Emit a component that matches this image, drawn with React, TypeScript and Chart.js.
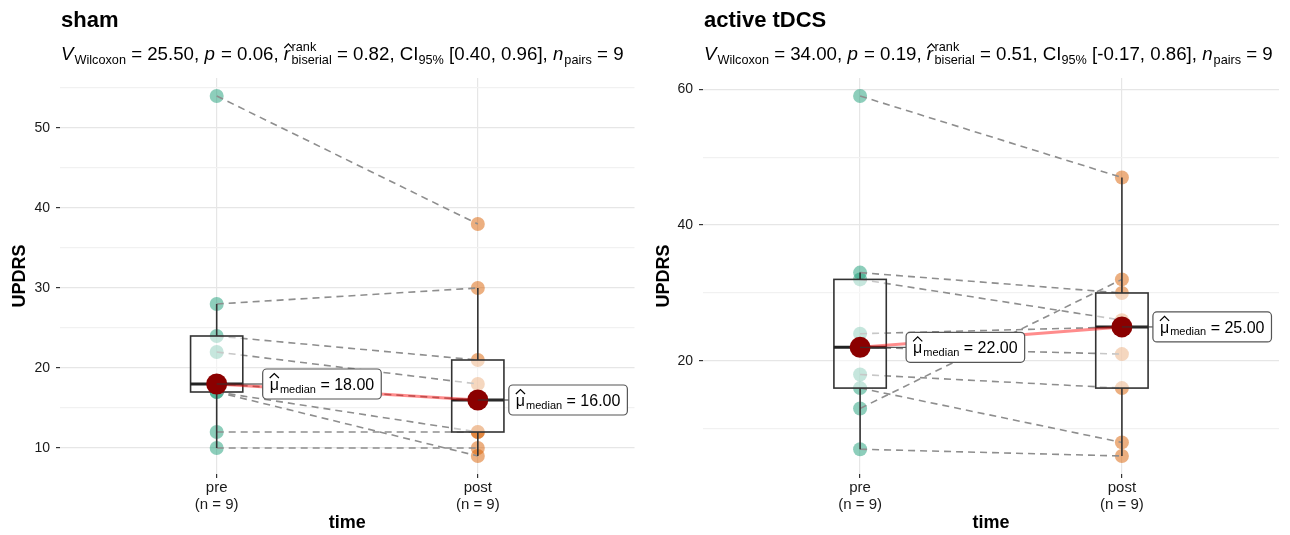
import React, { useEffect, useRef } from 'react';
import { Chart, registerables } from 'chart.js';

Chart.register(...registerables);

const FONT = "'Liberation Sans', Arial, Helvetica, sans-serif";
Chart.defaults.font.family = FONT;

// ---------------- data ----------------
const categories = ['pre', 'post'];
const groupCounts = ['(n = 9)', '(n = 9)'];
const axisTitles = ['time', 'UPDRS'];
const panelTitles = ['sham', 'active tDCS'];

const shamPre = [54, 28, 24, 22, 18, 17, 17, 12, 10];
const shamPost = [38, 30, 21, 18, 16, 9, 12, 12, 10];
const activePre = [59, 33, 32, 24, 22, 18, 16, 13, 7];
const activePost = [47, 30, 26, 25, 21, 16, 8, 32, 6];

// V, p, r, CI, n
const shamStats = ['25.50', '0.06', '0.82', '[0.40, 0.96]', '9'];
const activeStats = ['34.00', '0.19', '0.51', '[-0.17, 0.86]', '9'];

const yLabelSteps = [10, 20];

// ---------------- styles ----------------
const PRE_COLOR = 'rgba(27,158,119,0.5)';
const POST_COLOR = 'rgba(217,95,2,0.5)';
const GRID_MAJOR = '#E6E6E6';
const GRID_MINOR = '#F1F1F1';
const BOX_HALF = 0.1;

function quantile7(sorted: number[], p: number) {
  const h = (sorted.length - 1) * p;
  const lo = Math.floor(h);
  const hi = Math.min(lo + 1, sorted.length - 1);
  return sorted[lo] + (h - lo) * (sorted[hi] - sorted[lo]);
}

function boxStats(values: number[]) {
  const s = [...values].sort((a, b) => a - b);
  const q1 = quantile7(s, 0.25);
  const med = quantile7(s, 0.5);
  const q3 = quantile7(s, 0.75);
  const iqr = q3 - q1;
  const lo = Math.min(...s.filter((v) => v >= q1 - 1.5 * iqr));
  const hi = Math.max(...s.filter((v) => v <= q3 + 1.5 * iqr));
  return { q1, med, q3, lo, hi };
}

function drawSubtitle(ctx: CanvasRenderingContext2D, x: number, y: number, stats: string[], base: number, small: number) {
  const parts: any[] = [
    { t: 'V', it: true },
    { t: 'Wilcoxon', sub: true },
    { t: ' = ' + stats[0] + ', ' },
    { t: 'p', it: true },
    { t: ' = ' + stats[1] + ', ' },
    { rhat: true },
    { t: ' = ' + stats[2] + ', CI' },
    { t: '95%', sub: true },
    { t: ' ' + stats[3] + ', ' },
    { t: 'n', it: true },
    { t: 'pairs', sub: true },
    { t: ' = ' + stats[4] },
  ];
  ctx.save();
  ctx.fillStyle = '#000';
  ctx.strokeStyle = '#000';
  ctx.textAlign = 'left';
  ctx.textBaseline = 'alphabetic';
  let cx = x;
  for (const p of parts) {
    if (p.rhat) {
      ctx.font = `italic ${base}px ${FONT}`;
      const w = ctx.measureText('r').width;
      ctx.fillText('r', cx, y);
      ctx.lineWidth = 1.2;
      ctx.beginPath();
      ctx.moveTo(cx + 0.5, y - base * 0.64);
      ctx.lineTo(cx + w / 2 + 1.5, y - base * 0.86);
      ctx.lineTo(cx + w + 2, y - base * 0.64);
      ctx.stroke();
      cx += w + 1.5;
      ctx.font = `${small}px ${FONT}`;
      const w1 = ctx.measureText('rank').width;
      const w2 = ctx.measureText('biserial').width;
      ctx.fillText('rank', cx, y - base * 0.5);
      ctx.fillText('biserial', cx, y + 4);
      cx += Math.max(w1, w2);
      continue;
    }
    ctx.font = `${p.it ? 'italic ' : ''}${p.sub ? small : base}px ${FONT}`;
    ctx.fillText(p.t, cx, p.sub ? y + 3.5 : y);
    cx += ctx.measureText(p.t).width + (p.it ? 1 : 0);
  }
  ctx.restore();
}

function drawMedianLabel(ctx: CanvasRenderingContext2D, px: number, py: number, dx: number, value: string) {
  const base = 16;
  const small = 11;
  ctx.save();
  ctx.font = `${base}px ${FONT}`;
  const wMu = ctx.measureText('μ').width;
  const wRest = ctx.measureText(' = ' + value).width;
  ctx.font = `${small}px ${FONT}`;
  const wSub = ctx.measureText('median').width;
  const padL = 7;
  const padR = 7;
  const h = 30;
  const w = padL + wMu + 1 + wSub + wRest + padR;
  const bx = px + dx;
  const by = py - h / 2;
  ctx.strokeStyle = '#333';
  ctx.lineWidth = 1;
  ctx.beginPath();
  ctx.moveTo(px, py);
  ctx.lineTo(bx, py);
  ctx.stroke();
  ctx.beginPath();
  (ctx as any).roundRect(bx, by, w, h, 4);
  ctx.fillStyle = '#fff';
  ctx.fill();
  ctx.strokeStyle = '#555';
  ctx.lineWidth = 1.2;
  ctx.stroke();
  const yb = py + 6;
  let cx = bx + padL;
  ctx.fillStyle = '#000';
  ctx.textAlign = 'left';
  ctx.textBaseline = 'alphabetic';
  ctx.font = `${base}px ${FONT}`;
  ctx.fillText('μ', cx, yb);
  ctx.strokeStyle = '#000';
  ctx.lineWidth = 1.2;
  ctx.beginPath();
  ctx.moveTo(cx, yb - 12);
  ctx.lineTo(cx + wMu / 2, yb - 16.5);
  ctx.lineTo(cx + wMu, yb - 12);
  ctx.stroke();
  cx += wMu + 1;
  ctx.font = `${small}px ${FONT}`;
  ctx.fillText('median', cx, yb + 2.5);
  cx += wSub;
  ctx.font = `${base}px ${FONT}`;
  ctx.fillText(' = ' + value, cx, yb);
  ctx.restore();
}

type PanelProps = {
  title: string;
  pre: number[];
  post: number[];
  stats: string[];
  labelStep: number;
  yAxisWidth: number;
  padRight: number;
  yTitlePad: number;
};

function Panel(props: PanelProps) {
  const ref = useRef<HTMLCanvasElement>(null);
  useEffect(() => {
    const canvas = ref.current;
    if (!canvas) return;
    const { pre, post, stats, title, labelStep } = props;
    const all = [...pre, ...post];
    const lo = Math.min(...all);
    const hi = Math.max(...all);
    const expand = (hi - lo) * 0.05;
    const preStats = boxStats(pre);
    const postStats = boxStats(post);
    const groups = [pre, post];
    const medians = [preStats.med, postStats.med];

    const datasets: any[] = [];
    datasets.push({
      label: 'pre',
      data: pre.map((y) => ({ x: 1, y })),
      backgroundColor: PRE_COLOR,
      borderWidth: 0,
      pointRadius: 7,
      pointHoverRadius: 7,
      pointBorderWidth: 0,
      showLine: false,
      order: 10,
    });
    datasets.push({
      label: 'post',
      data: post.map((y) => ({ x: 2, y })),
      backgroundColor: POST_COLOR,
      borderWidth: 0,
      pointRadius: 7,
      pointHoverRadius: 7,
      pointBorderWidth: 0,
      showLine: false,
      order: 10,
    });
    pre.forEach((v, i) => {
      datasets.push({
        label: 'pair' + i,
        data: [
          { x: 1, y: v },
          { x: 2, y: post[i] },
        ],
        borderColor: '#8E8E8E',
        borderWidth: 1.6,
        borderDash: [7, 5],
        pointRadius: 0,
        showLine: true,
        order: 9,
      });
    });
    datasets.push({
      label: 'median-line',
      data: medians.map((m, i) => ({ x: i + 1, y: m })),
      borderColor: 'rgba(255,0,0,0.45)',
      borderWidth: 3,
      pointRadius: 0,
      showLine: true,
      order: 2,
    });
    datasets.push({
      label: 'median-points',
      data: medians.map((m, i) => ({ x: i + 1, y: m })),
      backgroundColor: '#8B0000',
      pointRadius: 10.5,
      pointHoverRadius: 10.5,
      pointBorderWidth: 0,
      showLine: false,
      order: 1,
    });

    const boxPlugin = {
      id: 'boxes',
      beforeDatasetDraw(chart: any, args: any) {
        const ds = chart.data.datasets[args.index];
        if (ds.label !== 'median-line') return;
        const ctx: CanvasRenderingContext2D = chart.ctx;
        const xs = chart.scales.x;
        const ys = chart.scales.y;
        ctx.save();
        groups.forEach((vals, i) => {
          const st = boxStats(vals);
          const xc = xs.getPixelForValue(i + 1);
          const xl = xs.getPixelForValue(i + 1 - BOX_HALF);
          const xr = xs.getPixelForValue(i + 1 + BOX_HALF);
          const yq1 = ys.getPixelForValue(st.q1);
          const yq3 = ys.getPixelForValue(st.q3);
          const ymed = ys.getPixelForValue(st.med);
          const ylo = ys.getPixelForValue(st.lo);
          const yhi = ys.getPixelForValue(st.hi);
          ctx.strokeStyle = '#333';
          ctx.lineWidth = 1.6;
          ctx.beginPath();
          ctx.moveTo(xc, yhi);
          ctx.lineTo(xc, yq3);
          ctx.moveTo(xc, yq1);
          ctx.lineTo(xc, ylo);
          ctx.stroke();
          ctx.fillStyle = 'rgba(255,255,255,0.5)';
          ctx.fillRect(xl, yq3, xr - xl, yq1 - yq3);
          ctx.strokeRect(xl, yq3, xr - xl, yq1 - yq3);
          ctx.lineWidth = 3;
          ctx.strokeStyle = '#222';
          ctx.beginPath();
          ctx.moveTo(xl, ymed);
          ctx.lineTo(xr, ymed);
          ctx.stroke();
        });
        ctx.restore();
      },
      afterDatasetsDraw(chart: any) {
        const ctx: CanvasRenderingContext2D = chart.ctx;
        const xs = chart.scales.x;
        const ys = chart.scales.y;
        medians.forEach((m, i) => {
          drawMedianLabel(ctx, xs.getPixelForValue(i + 1), ys.getPixelForValue(m), i === 0 ? 46 : 31, m.toFixed(2));
        });
      },
      afterDraw(chart: any) {
        const ctx: CanvasRenderingContext2D = chart.ctx;
        const left = chart.chartArea.left + 1;
        ctx.save();
        ctx.fillStyle = '#000';
        ctx.textAlign = 'left';
        ctx.textBaseline = 'alphabetic';
        ctx.font = `bold 22px ${FONT}`;
        ctx.fillText(title, left, 27);
        ctx.restore();
        drawSubtitle(ctx, left, 60, stats, 18.7, 12.7);
      },
    };

    const chart = new Chart(canvas, {
      type: 'scatter',
      data: { datasets },
      options: {
        animation: false,
        responsive: false,
        events: [],
        layout: { padding: { top: 78, right: props.padRight, bottom: 0, left: 0 } },
        plugins: { legend: { display: false }, tooltip: { enabled: false }, title: { display: false } },
        scales: {
          x: {
            type: 'linear',
            min: 0.4,
            max: 2.6,
            afterBuildTicks: (axis: any) => {
              axis.ticks = categories.map((_, i) => ({ value: i + 1 }));
            },
            afterFit: (axis: any) => {
              axis.height = 61;
            },
            ticks: {
              autoSkip: false,
              maxRotation: 0,
              padding: 1,
              color: '#1a1a1a',
              font: { size: 15, lineHeight: 1.15 },
              callback: (v: any) => {
                const i = Math.round(Number(v)) - 1;
                return [categories[i], groupCounts[i]];
              },
            },
            grid: { color: GRID_MAJOR, lineWidth: 1.2, tickColor: '#333', tickLength: 4, tickWidth: 1.2 },
            border: { display: false },
            title: {
              display: true,
              text: axisTitles[0],
              color: '#000',
              font: { size: 18, weight: 'bold' },
              padding: { top: 0, bottom: 1 },
            },
          },
          y: {
            type: 'linear',
            min: lo - expand,
            max: hi + expand,
            afterFit: (axis: any) => {
              axis.width = props.yAxisWidth;
            },
            ticks: {
              stepSize: labelStep / 2,
              includeBounds: false,
              padding: 6,
              color: '#1a1a1a',
              font: { size: 14 },
              callback: (v: any) => (Number(v) % labelStep === 0 ? String(v) : ''),
            },
            grid: {
              color: (c: any) => (c.tick && c.tick.value % labelStep === 0 ? GRID_MAJOR : GRID_MINOR),
              tickColor: (c: any) => (c.tick && c.tick.value % labelStep === 0 ? '#333' : 'rgba(0,0,0,0)'),
              lineWidth: 1.2,
              tickLength: 4,
              tickWidth: 1.2,
            },
            border: { display: false },
            title: {
              display: true,
              text: axisTitles[1],
              color: '#000',
              font: { size: 18, weight: 'bold' },
              padding: { top: props.yTitlePad, bottom: 0 },
            },
          },
        },
      },
      plugins: [boxPlugin],
    } as any);
    return () => chart.destroy();
  }, []);
  return <canvas ref={ref} width={645} height={535} style={{ display: 'block', width: 645, height: 535 }} />;
}

export default function App() {
  return (
    <div style={{ position: 'absolute', left: 0, top: 0, width: 1290, height: 535, background: '#fff', display: 'flex' }}>
      <Panel title={panelTitles[0]} pre={shamPre} post={shamPost} stats={shamStats} labelStep={yLabelSteps[0]} yAxisWidth={60} padRight={9} yTitlePad={9} />
      <Panel title={panelTitles[1]} pre={activePre} post={activePost} stats={activeStats} labelStep={yLabelSteps[1]} yAxisWidth={58} padRight={11} yTitlePad={8} />
    </div>
  );
}
